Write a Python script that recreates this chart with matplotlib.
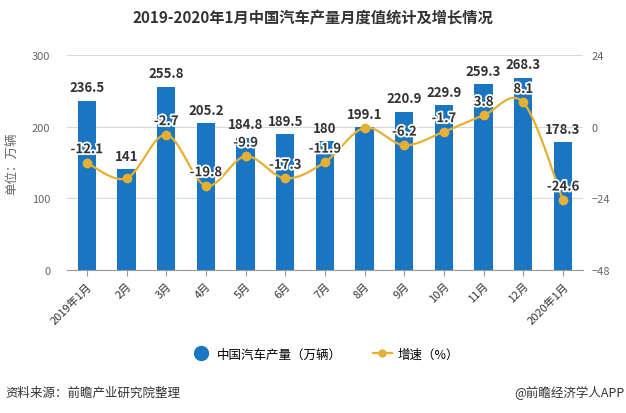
import numpy as np
import matplotlib.pyplot as plt
import matplotlib.patheffects as pe
from matplotlib.lines import Line2D

plt.rcParams['font.family'] = ['Noto Sans CJK SC', 'DejaVu Sans']

months = ["2019年1月", "2月", "3月", "4月", "5月", "6月", "7月", "8月",
          "9月", "10月", "11月", "12月", "2020年1月"]
output = [236.5, 141, 255.8, 205.2, 184.8, 189.5, 180, 199.1,
          220.9, 229.9, 259.3, 268.3, 178.3]
growth = [-12.1, -17.3, -2.7, -19.8, -9.9, -17.3, -11.9, -0.4,
          -6.2, -1.7, 3.8, 8.1, -24.6]
growth_labels = ["-12.1", "", "-2.7", "-19.8", "-9.9", "-17.3", "-11.9", "",
                 "-6.2", "-1.7", "3.8", "8.1", "-24.6"]

bar_color = "#1a76c3"
line_color = "#e6b032"
grey = "#666666"


def smooth(x, y, n=20, t=0.5):
    # cardinal spline through the points, only for the drawn curve
    x = np.asarray(x, float)
    y = np.asarray(y, float)
    px = np.concatenate([[x[0]], x, [x[-1]]])
    py = np.concatenate([[y[0]], y, [y[-1]]])
    xs, ys = [], []
    for i in range(1, len(px) - 2):
        m0x, m0y = t * (px[i + 1] - px[i - 1]), t * (py[i + 1] - py[i - 1])
        m1x, m1y = t * (px[i + 2] - px[i]), t * (py[i + 2] - py[i])
        s = np.linspace(0, 1, n)
        h00 = 2 * s**3 - 3 * s**2 + 1
        h10 = s**3 - 2 * s**2 + s
        h01 = -2 * s**3 + 3 * s**2
        h11 = s**3 - s**2
        xs.append(h00 * px[i] + h10 * m0x + h01 * px[i + 1] + h11 * m1x)
        ys.append(h00 * py[i] + h10 * m0y + h01 * py[i + 1] + h11 * m1y)
    return np.concatenate(xs), np.concatenate(ys)


fig = plt.figure(figsize=(6.26, 4.14), dpi=100)
ax = fig.add_axes([0.107, 0.3454, 0.824, 0.5193])
ax2 = ax.twinx()

x = np.arange(len(months))
ax.bar(x, output, width=0.46, color=bar_color, zorder=2)
ax.set_ylim(0, 300)
ax.set_yticks([0, 100, 200, 300])
ax.set_xlim(-0.5, len(months) - 0.5)
ax.grid(axis="y", color="#d9d9d9", linewidth=0.8, zorder=0)
ax.set_axisbelow(True)
for s in ["top", "right", "left"]:
    ax.spines[s].set_visible(False)
    ax2.spines[s].set_visible(False)
ax2.spines["bottom"].set_visible(False)
ax.spines["bottom"].set_color("#999999")
ax.tick_params(axis="y", length=0, labelsize=8, labelcolor=grey, pad=12)
ax.tick_params(axis="x", length=4, color="#999999", labelsize=8, labelcolor="#333333")
ax.set_xticks(x)
ax.set_xticklabels(months, rotation=45, ha="right", rotation_mode="anchor")
ax.set_ylabel("单位：万辆", fontsize=9, color=grey, labelpad=10)

for xi, v in zip(x, output):
    ax.text(xi, v + 9, f"{v:g}", ha="center", va="bottom", fontsize=9.5,
            fontweight="semibold", color="#333333", zorder=5)

sx, sy = smooth(x, growth)
ax2.plot(sx, sy, color=line_color, linewidth=1.6, zorder=3)
ax2.plot(x, growth, "o", color=line_color, markersize=6, zorder=4)
ax2.set_ylim(-48, 24)
ax2.set_yticks([-48, -24, 0, 24])
ax2.tick_params(axis="y", length=0, labelsize=8, labelcolor=grey, pad=6)
for xi, v, lab in zip(x, growth, growth_labels):
    if lab:
        ax2.text(xi, v + 2.2, lab, ha="center", va="bottom", fontsize=9.5,
                 fontweight="semibold", color="#333333", zorder=6,
                 path_effects=[pe.withStroke(linewidth=2.5, foreground="white")])
ax2.set_zorder(ax.get_zorder() + 1)
ax.patch.set_visible(True)
ax2.patch.set_visible(False)

fig.text(0.5, 0.955, "2019-2020年1月中国汽车产量月度值统计及增长情况",
         ha="center", va="center", fontsize=11, fontweight="bold", color="#333333")

handles = [
    Line2D([], [], marker="o", linestyle="none", color=bar_color, markersize=10),
    Line2D([], [], marker="o", color=line_color, markersize=5, linewidth=1.6),
]
fig.legend(handles, ["中国汽车产量（万辆）", "增速（%）"], loc="center",
           bbox_to_anchor=(0.52, 0.142), ncol=2, frameon=False, fontsize=9,
           handlelength=1.5, columnspacing=2.5, handletextpad=0.5)

fig.text(0.008, 0.05, "资料来源：前瞻产业研究院整理", fontsize=9, color="#333333",
         ha="left", va="center")
fig.text(0.997, 0.05, "@前瞻经济学人APP", fontsize=9, color="#333333",
         ha="right", va="center")

fig.savefig("out.png", dpi=100)
